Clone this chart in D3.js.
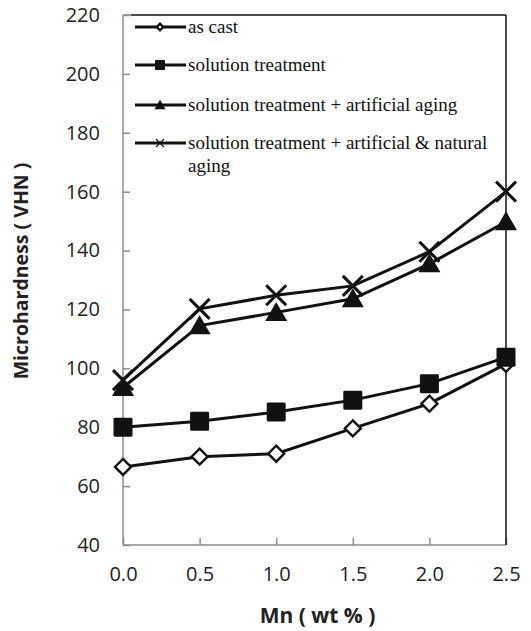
<!DOCTYPE html>
<html>
<head>
<meta charset="utf-8">
<script src="https://cdn.jsdelivr.net/npm/d3@7"></script>
<style>
  body { margin: 0; background: #fff; }
</style>
</head>
<body>
<div id="chart"></div>
<script>
var mn = [0, 0.5, 1.0, 1.5, 2.0, 2.5];
var asCast = [66.5, 70, 71, 79.6, 88, 101.5];
var solution = [80, 82, 85.2, 89.2, 94.8, 103.8];
var artificial = [93.5, 114.5, 119, 123.6, 135.5, 149.8];
var artNatural = [96, 120.2, 124.8, 128, 139.6, 160];
var seriesNames = [
    "as cast",
    "solution treatment",
    "solution treatment + artificial aging",
    "solution treatment + artificial & natural aging"
];
var yTicks = [40, 60, 80, 100, 120, 140, 160, 180, 200, 220];
var xTicks = [0, 0.5, 1.0, 1.5, 2.0, 2.5];

var W = 531, H = 631;
var margin = { top: 15, right: 25, bottom: 86, left: 123 };
var width = W - margin.left - margin.right,
    height = H - margin.top - margin.bottom;

var svg = d3.select("#chart").append("svg")
    .attr("width", W)
    .attr("height", H)
    .append("g")
    .attr("transform", "translate(" + margin.left + "," + margin.top + ")");

var x = d3.scaleLinear().domain([0, 2.5]).range([0, width]);
var y = d3.scaleLinear().domain([40, 220]).range([height, 0]);

// axes: gray left/bottom, ticks pointing inward
var yAxis = svg.append("g")
    .call(d3.axisLeft(y).tickValues(yTicks).tickSize(-7).tickPadding(23).tickFormat(d3.format("d")));
var xAxis = svg.append("g")
    .attr("transform", "translate(0," + height + ")")
    .call(d3.axisBottom(x).tickValues(xTicks).tickSize(-7).tickPadding(22).tickFormat(d3.format(".1f")));

[yAxis, xAxis].forEach(function(a) {
    a.select(".domain").attr("stroke", "#8c8c8c").attr("stroke-width", 1.5);
    a.selectAll(".tick line").attr("stroke", "#8c8c8c").attr("stroke-width", 1.5);
    a.selectAll(".tick text")
        .attr("font-family", "Open Sans")
        .attr("font-size", "20px")
        .attr("fill", "#222");
});
xAxis.select(".domain").attr("d", "M0,0H" + width);
yAxis.select(".domain").attr("d", "M0," + height + "V0");

// top and right border
svg.append("line")
    .attr("x1", 0).attr("x2", 8).attr("y1", 0).attr("y2", 0)
    .attr("stroke", "#8c8c8c").attr("stroke-width", 1.5);
svg.append("line")
    .attr("x1", 8).attr("x2", width).attr("y1", 0).attr("y2", 0)
    .attr("stroke", "#111").attr("stroke-width", 1.5);
svg.append("line")
    .attr("x1", width).attr("x2", width).attr("y1", 0).attr("y2", height)
    .attr("stroke", "#111").attr("stroke-width", 1.5);

var allSeries = [asCast, solution, artificial, artNatural];
var markers = ["diamond", "square", "triangle", "cross"];

function drawMarker(g, type, s) {
    if (type === "diamond") {
        g.append("path")
            .attr("d", "M0," + (-s) + "L" + s + ",0L0," + s + "L" + (-s) + ",0Z")
            .attr("fill", "#fff").attr("stroke", "#111").attr("stroke-width", s * 0.3);
    } else if (type === "square") {
        g.append("rect")
            .attr("x", -s).attr("y", -s).attr("width", 2 * s).attr("height", 2 * s)
            .attr("rx", s * 0.15)
            .attr("fill", "#111");
    } else if (type === "triangle") {
        g.append("path")
            .attr("d", "M0," + (-s * 1.05) + "L" + (s * 1.1) + "," + (s * 0.85) + "L" + (-s * 1.1) + "," + (s * 0.85) + "Z")
            .attr("fill", "#111");
    } else {
        g.append("path")
            .attr("d", "M" + (-s) + "," + (-s) + "L" + s + "," + s + "M" + (-s) + "," + s + "L" + s + "," + (-s))
            .attr("stroke", "#111").attr("stroke-width", s * 0.3).attr("fill", "none");
    }
}

var line = d3.line()
    .x(function(d, i) { return x(mn[i]); })
    .y(function(d) { return y(d); });

var markerSize = [8, 9.5, 10, 10];

allSeries.forEach(function(vals, k) {
    svg.append("path")
        .datum(vals)
        .attr("d", line)
        .attr("fill", "none")
        .attr("stroke", "#111")
        .attr("stroke-width", 3);
});
allSeries.forEach(function(vals, k) {
    vals.forEach(function(v, i) {
        var g = svg.append("g").attr("transform", "translate(" + x(mn[i]) + "," + y(v) + ")");
        drawMarker(g, markers[k], markerSize[k]);
    });
});

// legend
var legendY = [12, 50, 90, 128];
var legend = svg.append("g").attr("transform", "translate(12,0)");
seriesNames.forEach(function(name, k) {
    var row = legend.append("g").attr("transform", "translate(0," + legendY[k] + ")");
    row.append("line")
        .attr("x1", 0).attr("x2", 51).attr("y1", 0).attr("y2", 0)
        .attr("stroke", "#111").attr("stroke-width", 3);
    var m = row.append("g").attr("transform", "translate(25,0)");
    if (markers[k] === "diamond") {
        m.append("path").attr("d", "M0,-5L5,0L0,5L-5,0Z").attr("fill", "#111");
        m.append("circle").attr("r", 1.2).attr("fill", "#fff");
    } else {
        drawMarker(m, markers[k], markers[k] === "cross" ? 4 : 5);
    }
    var t = row.append("text")
        .attr("x", 53)
        .attr("y", 0)
        .attr("dy", "0.32em")
        .attr("font-family", "Liberation Serif")
        .attr("font-size", "19px")
        .attr("fill", "#111");
    if (k === 3) {
        t.append("tspan").attr("x", 53).text("solution treatment + artificial & natural");
        t.append("tspan").attr("x", 53).attr("dy", "1.23em").text("aging");
    } else {
        t.text(name);
    }
});

// axis titles
svg.append("text")
    .attr("x", width / 2 + 3)
    .attr("y", height + 78)
    .attr("text-anchor", "middle")
    .attr("font-family", "Open Sans")
    .attr("font-weight", "bold")
    .attr("font-size", "21px")
    .attr("fill", "#222")
    .text("Mn ( wt % )");

svg.append("text")
    .attr("transform", "rotate(-90)")
    .attr("x", -(271 - margin.top))
    .attr("y", -margin.left + 28)
    .attr("text-anchor", "middle")
    .attr("font-family", "Open Sans")
    .attr("font-weight", "bold")
    .attr("font-size", "19.5px")
    .attr("fill", "#222")
    .text("Microhardness ( VHN )");
</script>
</body>
</html>
